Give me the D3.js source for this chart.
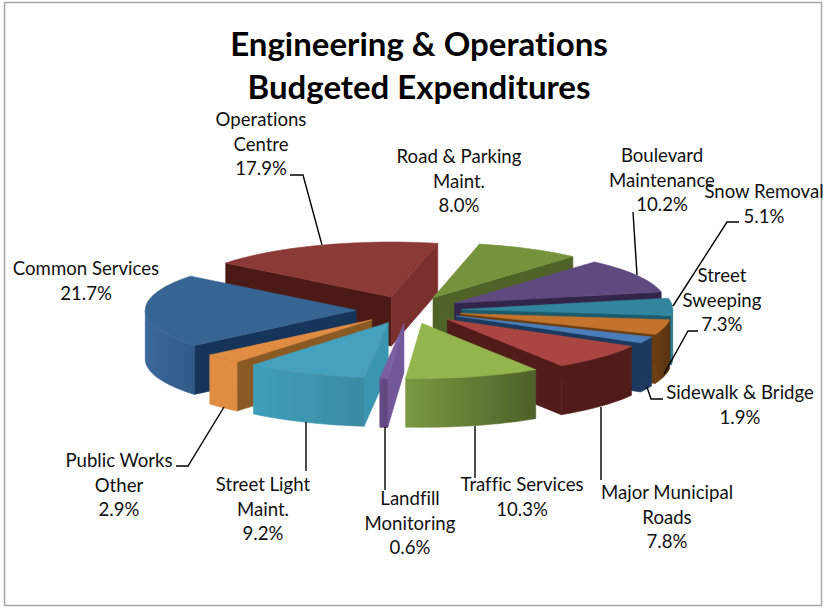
<!DOCTYPE html>
<html>
<head>
<meta charset="utf-8">
<script src="https://cdn.jsdelivr.net/npm/d3@7"></script>
<style>
html, body { margin: 0; padding: 0; background: #fff; }
svg { display: block; }
text { font-family: Lato, "Open Sans", sans-serif; fill: #111; font-variant-ligatures: none; }
</style>
</head>
<body>
<svg id="chart" width="827" height="608"></svg>
<script>
'use strict';

const categories = ["Road & Parking Maint.", "Boulevard Maintenance", "Snow Removal", "Street Sweeping",
    "Sidewalk & Bridge", "Major Municipal Roads", "Traffic Services", "Landfill Monitoring",
    "Street Light Maint.", "Public Works Other", "Common Services", "Operations Centre"];

// slice sizes (the sweeping wedge is drawn narrower than its printed 7.3%)
const sliceShare = [8.0, 10.2, 5.1, 4.4, 1.9, 7.8, 10.3, 0.6, 9.2, 2.9, 21.7, 17.9];

const labelLines = [
    ["Road & Parking", "Maint.", "8.0%"],
    ["Boulevard", "Maintenance", "10.2%"],
    ["Snow Removal", "5.1%"],
    ["Street", "Sweeping", "7.3%"],
    ["Sidewalk & Bridge", "1.9%"],
    ["Major Municipal", "Roads", "7.8%"],
    ["Traffic Services", "10.3%"],
    ["Landfill", "Monitoring", "0.6%"],
    ["Street Light", "Maint.", "9.2%"],
    ["Public Works", "Other", "2.9%"],
    ["Common Services", "21.7%"],
    ["Operations", "Centre", "17.9%"]
];
const titleLines = ["Engineering & Operations", "Budgeted Expenditures"];

// styles, same order as categories
const topColors = ["#76933c", "#5f4a80", "#31859c", "#c4732c", "#4a7ebb", "#aa4542",
    "#93b64c", "#7a5ea2", "#45a1be", "#e08c42", "#366493", "#8b3a37"];
const arcFrom = ["#4f6228", "#33254a", "#2b7c92", "#6b3d12", "#1b3a5e", "#511b1a",
    "#7a9a42", "#664c88", "#3f9fba", "#e08c42", "#3a6899", "#632523"];
const arcTo = ["#4f6228", "#33254a", "#1f5f72", "#5a3210", "#1b3a5e", "#511b1a",
    "#4d6028", "#5e4680", "#3a8ba3", "#e08c42", "#305a88", "#632523"];
const startWall = ["#4f6228", "#33254a", "#1f5f72", "#6b3d12", "#1b3a5e", "#511b1a",
    "#4d6028", "#725799", "#3a96b0", "#8a5a25", "#17355a", "#4b1a16"];
const endWall = ["#4f6228", "#33254a", "#1d5a6c", "#6b3d12", "#1b3a5e", "#511b1a",
    "#4d6028", "#725799", "#3a96b0", "#8a5a25", "#17355a", "#7a302d"];

// label placement: centre x, first line y
const labelX = [459, 662, 764, 722, 740, 667, 522, 410, 263, 119, 86, 261];
const labelY = [157, 156, 192, 276, 393, 493, 485, 499, 485, 461, 269, 120];
const lineGap = 24.6;

const leaders = [
    [[633, 212], [637, 275]],
    [[739, 222], [727, 222], [673, 306]],
    [[698, 331], [688, 331], [664, 374]],
    [[663, 399], [651, 399], [647, 387]],
    [[601, 407], [601, 480]],
    [[475, 426], [475, 478]],
    [[385, 427], [385, 490]],
    [[306, 422], [306, 471]],
    [[176, 466], [188, 466], [224, 407]],
    [[290, 175], [303, 175], [322, 245]]
];

const svg = d3.select("#chart");
const width = +svg.attr("width"),
    height = +svg.attr("height");

// tilted pie: ellipse radii, wall height and how far each slice is pulled out
const cx = 409, cy = 310, rx = 211, ry = 55, depth = 49, explode = 0.25;
const rad = Math.PI / 180;

svg.append("rect")
    .attr("x", 4.5).attr("y", 2.5)
    .attr("width", 817).attr("height", 603)
    .attr("fill", "#fff")
    .attr("stroke", "#a6a6a6")
    .attr("stroke-width", 1.5);

const pie = d3.pie().sort(null)
    .startAngle(12.7 * rad)
    .endAngle((360 + 12.7) * rad);

const slices = pie(sliceShare).map(function(d, i) {
    let mid = (d.startAngle + d.endAngle) / 2;
    return {
        i: i,
        a: d.startAngle,
        b: d.endAngle,
        mid: mid,
        ox: cx + explode * rx * Math.sin(mid),
        oy: cy - explode * ry * Math.cos(mid)
    };
});

function rim(s, ang, z) {
    return [s.ox + rx * Math.sin(ang), s.oy - ry * Math.cos(ang) + z];
}

function sweep(s, from, to, z) {
    let n = Math.max(2, Math.ceil((to - from) / (2 * rad)));
    return d3.range(n + 1).map(function(k) {
        return rim(s, from + (to - from) * k / n, z);
    });
}

const line = d3.line();
const defs = svg.append("defs");

// back to front so nearer slices cover farther ones
const ordered = slices.slice().sort(function(p, q) {
    return d3.descending(Math.cos(p.mid), Math.cos(q.mid));
});

const pieGroup = svg.append("g").attr("class", "pie");

function face(g, pts, fill) {
    g.append("path")
        .attr("d", line(pts) + "Z")
        .attr("fill", fill)
        .attr("stroke", fill)
        .attr("stroke-width", 0.6)
        .attr("stroke-linejoin", "round");
}

ordered.forEach(function(s) {
    let g = pieGroup.append("g").attr("class", "slice").attr("data-name", categories[s.i]);
    let apex = [s.ox, s.oy],
        apexLow = [s.ox, s.oy + depth];

    if (Math.sin(s.a) < 0) {
        face(g, [apex, rim(s, s.a, 0), rim(s, s.a, depth), apexLow], startWall[s.i]);
    }
    if (Math.sin(s.b) > 0) {
        face(g, [apex, rim(s, s.b, 0), rim(s, s.b, depth), apexLow], endWall[s.i]);
    }

    let from = Math.max(s.a, 90 * rad),
        to = Math.min(s.b, 270 * rad);
    if (to > from) {
        let gradId = "arc" + s.i;
        let grad = defs.append("linearGradient").attr("id", gradId);
        grad.append("stop").attr("offset", 0).attr("stop-color", arcFrom[s.i]);
        grad.append("stop").attr("offset", 1).attr("stop-color", arcTo[s.i]);
        let pts = sweep(s, from, to, 0).concat(sweep(s, from, to, depth).reverse());
        face(g, pts, "url(#" + gradId + ")");
    }

    face(g, [apex].concat(sweep(s, s.a, s.b, 0)), topColors[s.i]);
});

svg.append("g").attr("class", "leaders")
    .selectAll("path")
    .data(leaders)
    .enter().append("path")
    .attr("d", function(d) { return line(d); })
    .attr("fill", "none")
    .attr("stroke", "#000")
    .attr("stroke-width", 1.4);

const labels = svg.append("g").attr("class", "labels")
    .selectAll("text")
    .data(labelLines)
    .enter().append("text")
    .attr("text-anchor", "middle")
    .attr("font-size", 18.6);

labels.selectAll("tspan")
    .data(function(d, i) {
        return d.map(function(t, k) {
            return { t: t, x: labelX[i], y: labelY[i] + k * lineGap + 6 };
        });
    })
    .enter().append("tspan")
    .attr("x", function(d) { return d.x; })
    .attr("y", function(d) { return d.y; })
    .text(function(d) { return d.t; });

svg.append("g").attr("class", "title")
    .selectAll("text")
    .data(titleLines)
    .enter().append("text")
    .attr("x", 419)
    .attr("y", function(d, i) { return 56 + i * 43; })
    .attr("text-anchor", "middle")
    .attr("font-size", 33)
    .attr("font-weight", 700)
    .style("fill", "#000")
    .text(function(d) { return d; });
</script>
</body>
</html>
